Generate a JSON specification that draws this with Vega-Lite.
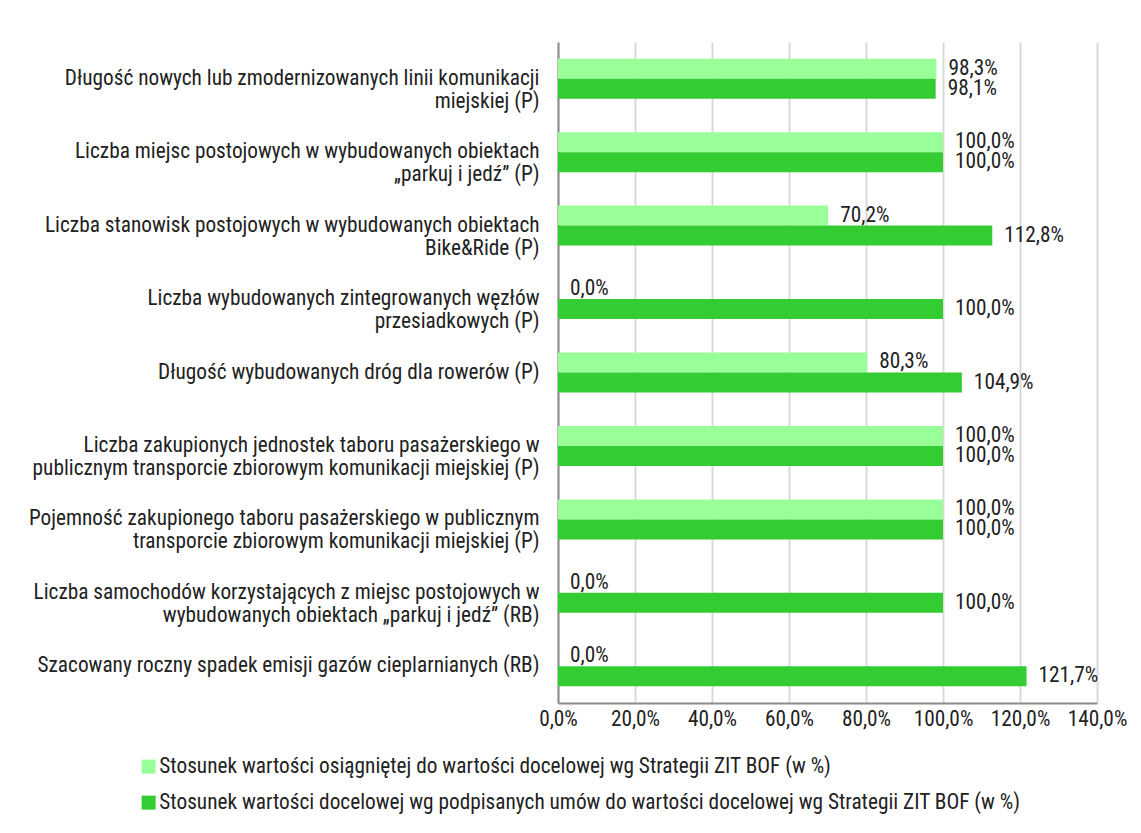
{
  "$schema": "https://vega.github.io/schema/vega-lite/v6.json",
  "autosize": {"type": "none"},
  "width": 539,
  "height": 661,
  "padding": {"left": 558, "top": 42, "right": 44, "bottom": 130},
  "background": "white",
  "config": {
    "font": "Roboto Condensed, Liberation Sans Narrow, Roboto",
    "view": {"stroke": null},
    "locale": {"number": {"decimal": ",", "thousands": " ", "grouping": [3], "currency": ["", "%"]}}
  },
  "data": {"values": [
    {"cat": "Długość nowych lub zmodernizowanych linii komunikacji|miejskiej (P)", "series": "Stosunek wartości osiągniętej do wartości docelowej wg Strategii ZIT BOF (w %)", "value": 98.3},
    {"cat": "Długość nowych lub zmodernizowanych linii komunikacji|miejskiej (P)", "series": "Stosunek wartości docelowej wg podpisanych umów do wartości docelowej wg Strategii ZIT BOF (w %)", "value": 98.1},
    {"cat": "Liczba miejsc postojowych w wybudowanych obiektach|„parkuj i jedź” (P)", "series": "Stosunek wartości osiągniętej do wartości docelowej wg Strategii ZIT BOF (w %)", "value": 100.0},
    {"cat": "Liczba miejsc postojowych w wybudowanych obiektach|„parkuj i jedź” (P)", "series": "Stosunek wartości docelowej wg podpisanych umów do wartości docelowej wg Strategii ZIT BOF (w %)", "value": 100.0},
    {"cat": "Liczba stanowisk postojowych w wybudowanych obiektach|Bike&Ride (P)", "series": "Stosunek wartości osiągniętej do wartości docelowej wg Strategii ZIT BOF (w %)", "value": 70.2},
    {"cat": "Liczba stanowisk postojowych w wybudowanych obiektach|Bike&Ride (P)", "series": "Stosunek wartości docelowej wg podpisanych umów do wartości docelowej wg Strategii ZIT BOF (w %)", "value": 112.8},
    {"cat": "Liczba wybudowanych zintegrowanych węzłów|przesiadkowych (P)", "series": "Stosunek wartości osiągniętej do wartości docelowej wg Strategii ZIT BOF (w %)", "value": 0.0},
    {"cat": "Liczba wybudowanych zintegrowanych węzłów|przesiadkowych (P)", "series": "Stosunek wartości docelowej wg podpisanych umów do wartości docelowej wg Strategii ZIT BOF (w %)", "value": 100.0},
    {"cat": "Długość wybudowanych dróg dla rowerów (P)", "series": "Stosunek wartości osiągniętej do wartości docelowej wg Strategii ZIT BOF (w %)", "value": 80.3},
    {"cat": "Długość wybudowanych dróg dla rowerów (P)", "series": "Stosunek wartości docelowej wg podpisanych umów do wartości docelowej wg Strategii ZIT BOF (w %)", "value": 104.9},
    {"cat": "Liczba zakupionych jednostek taboru pasażerskiego w|publicznym transporcie zbiorowym komunikacji miejskiej (P)", "series": "Stosunek wartości osiągniętej do wartości docelowej wg Strategii ZIT BOF (w %)", "value": 100.0},
    {"cat": "Liczba zakupionych jednostek taboru pasażerskiego w|publicznym transporcie zbiorowym komunikacji miejskiej (P)", "series": "Stosunek wartości docelowej wg podpisanych umów do wartości docelowej wg Strategii ZIT BOF (w %)", "value": 100.0},
    {"cat": "Pojemność zakupionego taboru pasażerskiego w publicznym|transporcie zbiorowym komunikacji miejskiej (P)", "series": "Stosunek wartości osiągniętej do wartości docelowej wg Strategii ZIT BOF (w %)", "value": 100.0},
    {"cat": "Pojemność zakupionego taboru pasażerskiego w publicznym|transporcie zbiorowym komunikacji miejskiej (P)", "series": "Stosunek wartości docelowej wg podpisanych umów do wartości docelowej wg Strategii ZIT BOF (w %)", "value": 100.0},
    {"cat": "Liczba samochodów korzystających z miejsc postojowych w|wybudowanych obiektach „parkuj i jedź” (RB)", "series": "Stosunek wartości osiągniętej do wartości docelowej wg Strategii ZIT BOF (w %)", "value": 0.0},
    {"cat": "Liczba samochodów korzystających z miejsc postojowych w|wybudowanych obiektach „parkuj i jedź” (RB)", "series": "Stosunek wartości docelowej wg podpisanych umów do wartości docelowej wg Strategii ZIT BOF (w %)", "value": 100.0},
    {"cat": "Szacowany roczny spadek emisji gazów cieplarnianych (RB)", "series": "Stosunek wartości osiągniętej do wartości docelowej wg Strategii ZIT BOF (w %)", "value": 0.0},
    {"cat": "Szacowany roczny spadek emisji gazów cieplarnianych (RB)", "series": "Stosunek wartości docelowej wg podpisanych umów do wartości docelowej wg Strategii ZIT BOF (w %)", "value": 121.7}
  ]},
  "encoding": {
    "y": {
      "field": "cat", "type": "nominal", "sort": null,
      "scale": {"paddingInner": 0.455, "paddingOuter": 0.2275},
      "axis": {
        "title": null, "labelExpr": "split(datum.label, '|')", "labelLimit": 600,
        "labelFontSize": 21.3, "labelColor": "#222222", "labelLineHeight": 23,
        "labelPadding": 19, "ticks": false, "domainColor": "#8c8c8c", "domainWidth": 2
      }
    },
    "yOffset": {
      "field": "series", "type": "nominal",
      "sort": ["Stosunek wartości osiągniętej do wartości docelowej wg Strategii ZIT BOF (w %)", "Stosunek wartości docelowej wg podpisanych umów do wartości docelowej wg Strategii ZIT BOF (w %)"],
      "scale": {"paddingInner": 0, "paddingOuter": 0}
    },
    "x": {
      "field": "value", "type": "quantitative",
      "scale": {"domain": [0, 140]},
      "axis": {
        "title": null, "values": [0, 20, 40, 60, 80, 100, 120, 140], "format": "$.1f",
        "labelFontSize": 21.3, "labelColor": "#222222", "labelPadding": 5, "ticks": false,
        "labelOverlap": false, "labelFlush": false, "labelBound": false,
        "domainColor": "#8c8c8c", "domainWidth": 2, "gridColor": "#d9d9d9", "gridWidth": 2
      }
    }
  },
  "layer": [
    {
      "mark": {"type": "bar"},
      "encoding": {
        "color": {
          "field": "series", "type": "nominal",
          "sort": ["Stosunek wartości osiągniętej do wartości docelowej wg Strategii ZIT BOF (w %)", "Stosunek wartości docelowej wg podpisanych umów do wartości docelowej wg Strategii ZIT BOF (w %)"],
          "scale": {"range": ["#99FF99", "#33CC33"]},
          "legend": {
            "title": null, "orient": "none", "legendX": -420, "legendY": 714, "direction": "vertical",
            "symbolType": "square", "symbolSize": 196, "symbolStrokeWidth": 0, "labelFontSize": 21.3,
            "labelColor": "#222222", "labelLimit": 1000, "rowPadding": 14, "labelOffset": 0
          }
        }
      }
    },
    {
      "mark": {"type": "text", "align": "left", "baseline": "middle", "dx": 12, "fontSize": 21.3, "color": "#222222"},
      "encoding": {
        "text": {"field": "value", "type": "quantitative", "format": "$.1f"}
      }
    }
  ]
}
